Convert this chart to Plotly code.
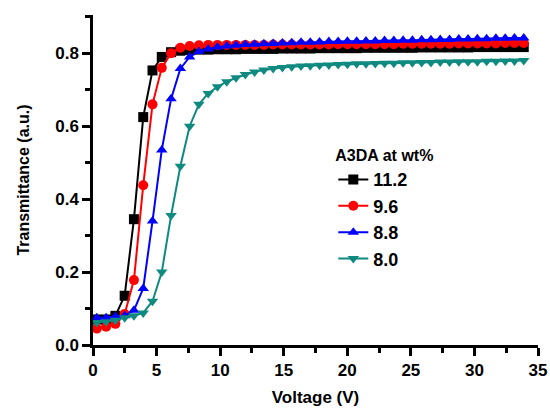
import plotly.graph_objects as go

voltage = [0.30, 1.03, 1.76, 2.49, 3.22, 3.95, 4.68, 5.41, 6.14, 6.87,
           7.60, 8.33, 9.06, 9.79, 10.52, 11.25, 11.98, 12.71, 13.44, 14.17,
           14.90, 15.63, 16.36, 17.09, 17.82, 18.55, 19.28, 20.01, 20.74, 21.47,
           22.20, 22.93, 23.66, 24.39, 25.12, 25.85, 26.58, 27.31, 28.04, 28.77,
           29.50, 30.23, 30.96, 31.69, 32.42, 33.15, 33.88]

t_112 = [0.070, 0.070, 0.080, 0.135, 0.345, 0.625, 0.753, 0.790, 0.803, 0.807,
         0.809, 0.810, 0.810, 0.811, 0.811, 0.811, 0.812, 0.812, 0.812, 0.812,
         0.813, 0.813, 0.813, 0.813, 0.814, 0.814, 0.814, 0.814, 0.814, 0.815,
         0.815, 0.815, 0.815, 0.815, 0.815, 0.816, 0.816, 0.816, 0.816, 0.816,
         0.816, 0.817, 0.817, 0.817, 0.817, 0.817, 0.817]

t_96 = [0.045, 0.050, 0.058, 0.085, 0.178, 0.438, 0.660, 0.760, 0.800, 0.815,
        0.820, 0.822, 0.823, 0.823, 0.823, 0.823, 0.823, 0.823, 0.823, 0.824,
        0.824, 0.824, 0.824, 0.824, 0.824, 0.824, 0.825, 0.825, 0.825, 0.825,
        0.825, 0.825, 0.825, 0.826, 0.826, 0.826, 0.826, 0.826, 0.826, 0.827,
        0.827, 0.827, 0.827, 0.827, 0.828, 0.828, 0.828]

t_88 = [0.075, 0.075, 0.078, 0.080, 0.095, 0.155, 0.340, 0.535, 0.675, 0.758,
        0.790, 0.805, 0.812, 0.817, 0.820, 0.822, 0.824, 0.825, 0.826, 0.827,
        0.828, 0.829, 0.830, 0.830, 0.831, 0.832, 0.832, 0.833, 0.833, 0.834,
        0.834, 0.835, 0.835, 0.836, 0.836, 0.837, 0.837, 0.838, 0.838, 0.839,
        0.839, 0.840, 0.840, 0.841, 0.841, 0.842, 0.842]

t_80 = [0.062, 0.064, 0.068, 0.075, 0.080, 0.088, 0.120, 0.200, 0.355, 0.490,
        0.600, 0.660, 0.690, 0.708, 0.722, 0.733, 0.742, 0.749, 0.754, 0.758,
        0.761, 0.763, 0.765, 0.766, 0.767, 0.768, 0.769, 0.770, 0.771, 0.771,
        0.772, 0.773, 0.773, 0.774, 0.774, 0.775, 0.775, 0.776, 0.776, 0.777,
        0.777, 0.777, 0.778, 0.778, 0.779, 0.779, 0.780]

series_names = ["11.2", "9.6", "8.8", "8.0"]
series_values = [t_112, t_96, t_88, t_80]
colors = ["#000000", "#FF0000", "#0000FF", "#0F8A80"]
symbols = ["square", "circle", "triangle-up", "triangle-down"]

x_ticks = [0, 5, 10, 15, 20, 25, 30, 35]
y_ticks = [0.0, 0.2, 0.4, 0.6, 0.8]

FONT = "Liberation Sans"

fig = go.Figure()
for name, vals, col, sym in zip(series_names, series_values, colors, symbols):
    fig.add_trace(go.Scatter(
        x=voltage, y=vals, name=name, mode="lines+markers",
        line=dict(color=col, width=2),
        marker=dict(symbol=sym, size=10, color=col),
    ))

axis_common = dict(
    showline=True, linecolor="black", linewidth=2.5,
    ticks="outside", ticklen=8, tickwidth=2.5, tickcolor="black",
    showgrid=False, zeroline=False, mirror=False, automargin=False,
    tickfont=dict(family=FONT, size=17, color="black", weight="bold"),
    minor=dict(ticks="outside", ticklen=5, tickwidth=2.5, tickcolor="black"),
)

fig.update_xaxes(range=[0, 35], tickvals=x_ticks,
                 title=dict(text="<b>Voltage (V)</b>", standoff=12,
                            font=dict(family=FONT, size=17, color="black")),
                 minor_dtick=2.5, **axis_common)
fig.update_yaxes(range=[0, 0.905], tickvals=y_ticks, tickformat=".1f",
                 title=dict(text="<b>Transmittance (a.u.)</b>", standoff=22,
                            font=dict(family=FONT, size=16, color="black")),
                 minor_dtick=0.1, **axis_common)

fig.update_layout(
    width=550, height=413,
    margin=dict(l=93, r=12, t=15, b=68),
    paper_bgcolor="white", plot_bgcolor="white",
    showlegend=True,
    legend=dict(
        x=0.54, y=0.62, xanchor="left", yanchor="top",
        bgcolor="rgba(0,0,0,0)",
        title=dict(text="<b>A3DA at wt%</b>",
                   font=dict(family=FONT, size=16, color="black")),
        font=dict(family=FONT, size=18, color="black", weight="bold"),
        itemwidth=30, tracegroupgap=0,
    ),
)

fig.write_html("out.html")
